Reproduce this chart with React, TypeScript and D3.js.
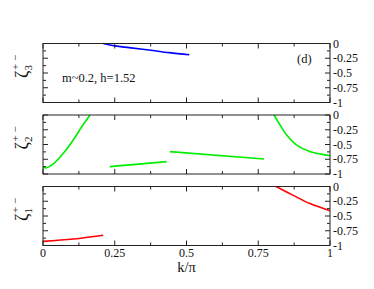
import React, { useRef, useEffect } from 'react';
import * as d3 from 'd3';

type Pt = [number, number];

// panel order: top (zeta_3), middle (zeta_2), bottom (zeta_1)
const panelLabels = ['3', '2', '1'];
const panelColors = ['#0000ff', '#00ee00', '#ff0000'];

const zeta3Seg1: Pt[] = [[0.21, 0], [0.25, -0.04], [0.3, -0.07], [0.37, -0.11], [0.44, -0.155], [0.51, -0.19]];

const zeta2Seg1: Pt[] = [[0, -0.89], [0.012, -0.895], [0.036, -0.83], [0.071, -0.65], [0.106, -0.42], [0.135, -0.2], [0.164, 0]];
const zeta2Seg2: Pt[] = [[0.233, -0.875], [0.431, -0.79]];
const zeta2Seg3: Pt[] = [[0.442, -0.62], [0.77, -0.745]];
const zeta2Seg4: Pt[] = [[0.805, 0], [0.826, -0.17], [0.849, -0.34], [0.884, -0.51], [0.93, -0.62], [0.988, -0.68], [1.0, -0.69]];

const zeta1Seg1: Pt[] = [[0, -0.93], [0.106, -0.89], [0.21, -0.826]];
const zeta1Seg2: Pt[] = [[0.812, 0], [0.872, -0.15], [0.93, -0.29], [1.0, -0.41]];

const panelSeries: Pt[][][] = [
  [zeta3Seg1],
  [zeta2Seg1, zeta2Seg2, zeta2Seg3, zeta2Seg4],
  [zeta1Seg1, zeta1Seg2],
];

const xTicks = [0, 0.25, 0.5, 0.75, 1];
const xTickLabels = ['0', '0.25', '0.5', '0.75', '1'];
const yTicks = [0, -0.25, -0.5, -0.75, -1];
const yTickLabels = ['0', '-0.25', '-0.5', '-0.75', '-1'];

const FONT = "'Times New Roman', 'Liberation Serif', Times, serif";

const App: React.FC = () => {
  const svgRef = useRef<SVGSVGElement>(null);

  useEffect(() => {
    if (!svgRef.current) return;
    const svg = d3.select(svgRef.current);
    svg.selectAll('*').remove();

    const left = 43;
    const right = 330;
    const panelTops = [43.5, 115, 186.5];
    const panelH = 59;

    const x = d3.scaleLinear().domain([0, 1]).range([left, right]);
    const minorX = d3.range(0, 1.0001, 0.125);
    const minorY = d3.range(0, -1.0001, -0.125);

    panelTops.forEach((top, i) => {
      const y = d3.scaleLinear().domain([-1, 0]).range([top + panelH, top]);
      const g = svg.append('g');

      // curves
      const line = d3.line<Pt>()
        .x(d => x(d[0]))
        .y(d => y(d[1]))
        .curve(d3.curveCatmullRom.alpha(0.5));
      panelSeries[i].forEach(seg => {
        g.append('path')
          .datum(seg)
          .attr('fill', 'none')
          .attr('stroke', panelColors[i])
          .attr('stroke-width', 1.6)
          .attr('d', line);
      });

      // frame
      g.append('rect')
        .attr('x', left)
        .attr('y', top)
        .attr('width', right - left)
        .attr('height', panelH)
        .attr('fill', 'none')
        .attr('stroke', '#222')
        .attr('stroke-width', 1);

      // x ticks (inward, top & bottom)
      minorX.forEach(v => {
        const major = Math.abs(v * 4 - Math.round(v * 4)) < 1e-6;
        const len = major ? 5 : 3;
        g.append('line')
          .attr('x1', x(v)).attr('x2', x(v))
          .attr('y1', top + panelH).attr('y2', top + panelH - len)
          .attr('stroke', '#222');
        g.append('line')
          .attr('x1', x(v)).attr('x2', x(v))
          .attr('y1', top).attr('y2', top + len)
          .attr('stroke', '#222');
      });

      // y ticks (inward, left & right)
      minorY.forEach(v => {
        const major = Math.abs(v * 4 - Math.round(v * 4)) < 1e-6;
        const len = major ? 5 : 3;
        g.append('line')
          .attr('x1', left).attr('x2', left + len)
          .attr('y1', y(v)).attr('y2', y(v))
          .attr('stroke', '#222');
        g.append('line')
          .attr('x1', right).attr('x2', right - len)
          .attr('y1', y(v)).attr('y2', y(v))
          .attr('stroke', '#222');
      });

      // right tick labels
      yTicks.forEach((v, k) => {
        g.append('text')
          .attr('x', right + 3)
          .attr('y', y(v) + 4)
          .style('font-family', FONT)
          .style('font-size', '12px')
          .attr('fill', '#111')
          .text(yTickLabels[k]);
      });

      // y label: zeta_n^{+-}
      const cy = top + panelH / 2;
      const lab = g.append('text')
        .attr('transform', `translate(28,${cy + 5}) rotate(-90)`)
        .style('font-family', FONT)
        .attr('fill', '#111');
      lab.append('tspan').style('font-size', '18px').text('ζ');
      lab.append('tspan').style('font-size', '11px').attr('dy', 4).text(panelLabels[i]);
      lab.append('tspan').style('font-size', '11px').attr('dx', -5).attr('dy', -13).text('+ −');

      if (i === 0) {
        g.append('text')
          .attr('x', 62)
          .attr('y', 82)
          .style('font-family', FONT)
          .style('font-size', '12.5px')
          .attr('fill', '#111')
          .text('m~0.2, h=1.52');
        g.append('text')
          .attr('x', 297)
          .attr('y', 63)
          .style('font-family', FONT)
          .style('font-size', '12.5px')
          .attr('fill', '#111')
          .text('(d)');
      }

      if (i === 2) {
        xTicks.forEach((v, k) => {
          g.append('text')
            .attr('x', x(v))
            .attr('y', top + panelH + 11)
            .attr('text-anchor', 'middle')
            .style('font-family', FONT)
            .style('font-size', '12px')
            .attr('fill', '#111')
            .text(xTickLabels[k]);
        });
        g.append('text')
          .attr('x', (left + right) / 2)
          .attr('y', top + panelH + 26.5)
          .attr('text-anchor', 'middle')
          .style('font-family', FONT)
          .style('font-size', '14.5px')
          .attr('fill', '#111')
          .text('k/π');
      }
    });
  }, []);

  return (
    <svg
      ref={svgRef}
      width={374}
      height={289}
      style={{ position: 'absolute', left: 0, top: 0, background: '#fff' }}
    />
  );
};

export default App;
